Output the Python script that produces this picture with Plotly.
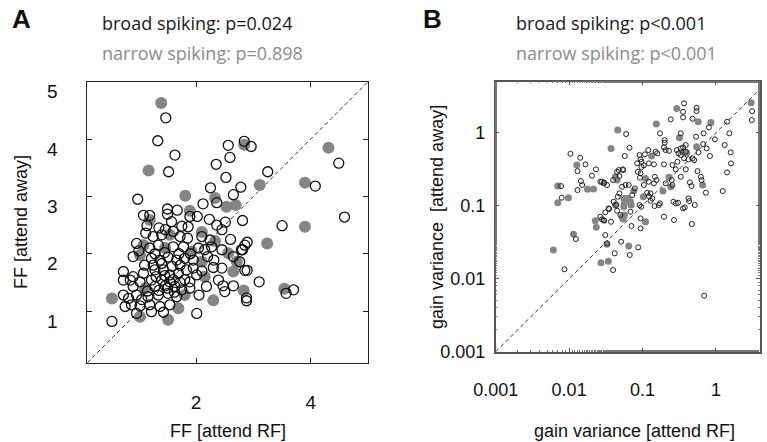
import numpy as np
import plotly.graph_objects as go

# ---------------- data: panel A (Fano factor) ----------------
A_BROAD_X = [1.47, 1.33, 1.63, 1.52, 2.56, 2.84, 2.96, 2.59, 2.35, 2.52, 2.25, 2.78, 2.65, 3.25, 0.98,
             4.49, 4.08, 4.59, 3.50, 2.81, 2.89, 2.85, 2.81, 2.76, 2.85, 2.89, 3.10, 2.88, 2.88, 3.57, 3.70,
             2.36, 2.12, 1.50, 1.67, 1.08, 1.19, 1.50, 1.89, 2.02, 2.23, 2.51, 2.36, 1.57, 1.86, 1.14, 1.46,
             1.60, 2.45, 1.12, 1.40, 1.72, 1.85, 2.24, 0.96, 1.19, 1.34, 1.60, 1.78, 2.04, 2.15, 2.27, 2.45,
             2.79, 0.90, 1.22, 1.37, 1.51, 1.66, 1.80, 1.95, 2.31, 2.30, 2.45, 0.73, 0.90, 1.08, 1.28, 1.43,
             1.54, 1.69, 1.83, 2.01, 0.73, 0.85, 1.02, 1.22, 1.40, 1.54, 1.89, 2.18, 2.39, 2.47, 2.50, 2.65,
             0.90, 1.28, 1.46, 1.63, 1.75, 1.89, 0.73, 0.82, 0.96, 1.16, 1.34, 1.51, 1.66, 2.05, 0.76, 0.87,
             1.02, 1.19, 1.37, 1.54, 0.96, 1.22, 1.43, 2.01, 0.53,
             1.30, 1.45, 1.60, 1.72, 1.35, 1.50, 1.62, 1.80, 1.25, 1.40, 1.58, 1.72, 1.10, 1.15, 1.05, 1.95,
             2.10, 1.70, 1.90, 1.45, 1.28, 1.00, 2.20, 1.35, 1.75, 1.25, 2.10, 2.60, 2.65]
A_BROAD_Y = [4.37, 3.97, 3.72, 3.43, 3.89, 3.96, 3.87, 3.68, 3.56, 3.33, 3.15, 3.16, 3.03, 3.43, 2.95,
             3.58, 3.18, 2.64, 2.49, 2.58, 2.20, 2.15, 2.07, 1.86, 1.71, 1.71, 1.51, 1.23, 1.18, 1.31, 1.37,
             2.89, 2.87, 2.78, 2.76, 2.67, 2.67, 2.69, 2.65, 2.65, 2.60, 2.55, 2.50, 2.56, 2.47, 2.49, 2.42,
             2.39, 2.42, 2.36, 2.33, 2.30, 2.27, 2.24, 2.18, 2.10, 2.15, 2.12, 2.12, 2.10, 2.07, 2.12, 2.07,
             2.07, 1.95, 1.92, 1.89, 1.94, 1.89, 1.92, 1.89, 1.89, 1.76, 1.75, 1.69, 1.60, 1.66, 1.72, 1.72,
             1.63, 1.66, 1.72, 1.63, 1.54, 1.54, 1.51, 1.54, 1.54, 1.51, 1.51, 1.43, 1.54, 1.44, 1.34, 1.44,
             1.43, 1.43, 1.44, 1.43, 1.37, 1.40, 1.28, 1.22, 1.28, 1.25, 1.28, 1.31, 1.25, 1.28, 1.08, 1.11,
             1.09, 1.11, 1.08, 1.11, 0.96, 0.99, 0.98, 0.96, 0.82,
             1.60, 1.62, 1.55, 1.50, 1.36, 1.40, 1.33, 1.55, 1.80, 1.83, 1.78, 1.80, 1.80, 1.35, 1.20, 1.75,
             1.70, 2.00, 2.00, 2.02, 2.00, 2.05, 1.95, 2.45, 2.48, 2.30, 2.30, 2.25, 1.95]

A_NARROW_X = [1.39, 1.17, 2.84, 3.11, 1.81, 2.33, 4.31, 3.90, 3.90, 3.24, 2.83, 3.54, 2.53, 2.69, 1.89,
              1.19, 2.10, 1.54, 2.33, 1.08, 1.46, 1.92, 2.56, 1.02, 2.10, 2.71, 2.65, 2.15, 1.11, 0.53,
              1.80, 2.30, 1.69, 1.02, 1.51]
A_NARROW_Y = [4.63, 3.45, 3.90, 3.20, 3.01, 2.97, 3.85, 3.24, 2.47, 2.18, 1.36, 1.39, 2.82, 2.85, 2.75,
              2.59, 2.38, 2.33, 2.22, 2.15, 2.10, 2.04, 2.01, 1.98, 1.86, 1.86, 1.69, 1.60, 1.40, 1.22,
              1.28, 1.19, 1.05, 0.90, 0.85]

A_RANGE = [0.1, 5]
A_XTICKS = [2, 4]
A_YTICKS = [1, 2, 3, 4, 5]

# ---------------- data: panel B (gain variance), read in log10 units ----------------
B_BROAD_LOG10_X = [-1.223, -1.178, -1.242, -1.982, -1.849, -1.777, -1.886, -1.634, -1.689, -1.347, -1.315, -1.264,
                   -1.401, -1.840, -1.822, -1.553, -1.521, -1.484, -1.278, -1.233, -1.188, -1.886, -2.110, -2.100,
                   -1.393, -1.338, -1.315, -1.462, -1.356,
                   -1.456, -1.347, -1.507, -1.301, -1.553, -1.521, -1.429, -1.908, -1.507, -1.484, -1.292, -1.379,
                   -1.401, -2.064, -1.174,
                   -0.434, -0.448, -0.448, -0.264, -0.264, -0.319, -0.616, -0.763, -0.479, -0.096, -0.169, 0.151,
                   0.182, -0.014, -0.699, -0.699, -0.270, -0.411, -0.174, -0.127, 0.119, 0.201, 0.205, 0.151,
                   -0.082, -0.237, -0.708, -0.685, -0.640, -0.534, -0.511, -0.479, -0.448, -0.411, -0.479, -0.434,
                   -0.374, -0.319, -0.297, -0.968, -1.027, -1.014, -0.922, -0.822, -0.799, -0.914, -0.845, -0.708,
                   -0.593, -0.548, -0.525, -0.411, -0.251, -0.205, -0.196, -0.137, 0.092, -0.479, -0.356, -0.333,
                   -0.603, -0.593, -0.685, -0.832, -0.808, -0.982, -0.914, -0.845, -1.064, -1.027, -1.036, -1.105,
                   -1.141, -0.936, -0.914, -0.890, -0.867, -0.890, -1.041, -1.018, -1.164, -0.836, -0.777, -0.763,
                   -0.708, -0.580, -0.548, -0.516, -0.448, -0.425, -0.374, -0.365, -0.288, -0.571, -0.329, -1.027,
                   -1.027, -1.151, -1.059, -0.160, -1.575, -1.530, -1.575, -1.530, -1.324, -1.270, -1.041, -1.073,
                   -1.014, -0.982, 0.493, 0.489]
B_BROAD_LOG10_Y = [-0.018, -0.205, -0.319, -0.288, -0.342, -0.433, -0.525, -0.501, -0.589, -0.534, -0.593, -0.511,
                   -0.648, -0.662, -0.716, -0.671, -0.685, -0.716, -0.740, -0.716, -0.716, -0.785, -0.730, -0.890,
                   -0.945, -0.877, -0.830, -1.036, -0.990,
                   -1.045, -1.068, -1.090, -1.127, -1.186, -1.205, -1.219, -1.456, -1.401, -1.515, -1.493, -1.652,
                   -1.881, -1.871, -1.675,
                   0.403, 0.288, 0.211, 0.342, 0.297, 0.192, 0.184, -0.008, -0.008, 0.074, -0.008, 0.151,
                   -0.008, -0.090, -0.100, -0.137, -0.055, -0.168, -0.155, -0.214, -0.168, -0.268, -0.419, -0.543,
                   -0.319, -0.268, -0.200, -0.237, -0.247, -0.237, -0.282, -0.214, -0.200, -0.260, -0.305, -0.350,
                   -0.364, -0.350, -0.374, -0.296, -0.364, -0.397, -0.237, -0.260, -0.282, -0.419, -0.433, -0.433,
                   -0.442, -0.501, -0.397, -0.501, -0.525, -0.603, -0.648, -0.822, -0.799, -0.603, -0.680, -0.730,
                   -0.648, -0.716, -0.693, -0.603, -0.648, -0.716, -0.671, -0.693, -0.534, -0.556, -0.616, -0.762,
                   -0.854, -0.822, -0.867, -0.830, -0.900, -0.932, -0.990, -1.014, -1.082, -1.004, -0.990, -0.967,
                   -1.151, -0.945, -0.967, -0.959, -1.036, -1.022, -0.900, -0.936, -0.990, -1.196, -1.250, -1.173,
                   -1.310, -1.278, -1.570, -2.233, -1.151, -1.196, -0.671, -0.693, -0.511, -0.501, -0.305, -0.419,
                   -0.470, -0.447, 0.297, 0.174]

B_NARROW_LOG10_X = [-1.338, -1.429, -1.895, -1.347, -1.749, -1.667, -2.155, -2.010, -2.155, -1.210, -1.247, -1.370,
                    -1.247, -1.264, -1.644, -1.630, -1.941, -1.484, -1.188, -2.215, -1.566, -1.466, -0.534, -0.242,
                    -0.068, -0.812, -0.497, -0.264, -0.442, -0.397, -0.877, -0.182, -0.640, -0.616, -0.722, -0.959,
                    -1.119, -1.256, -0.990, -1.155, -1.256, -1.278, -1.164, -0.959, -1.370, 0.479]
B_NARROW_LOG10_Y = [0.037, -0.214, -0.442, -0.648, -0.775, -0.771, -0.730, -0.890, -0.959, -0.900, -0.967, -0.990,
                    -1.127, -1.182, -1.205, -1.296, -1.392, -1.529, -1.552, -1.607, -1.781, -1.762, 0.334, 0.151,
                    0.142, 0.119, -0.068, -0.192, -0.260, -0.274, -0.319, -0.716, -0.611, -0.740, -0.799, -0.625,
                    -0.795, -0.900, -0.877, -0.990, -1.014, -1.151, -0.945, -1.219, -0.603, 0.411]

B_XRANGE_LOG10 = [-3, 0.6]
B_YRANGE_LOG10 = [-3, 0.7]
B_TICKS = [0.001, 0.01, 0.1, 1]
B_TICK_LABELS = ["0.001", "0.01", "0.1", "1"]

TITLE_A = ["broad spiking: p=0.024", "narrow spiking: p=0.898"]
TITLE_B = ["broad spiking: p<0.001", "narrow spiking: p<0.001"]

# ---------------- figure ----------------
W, H = 767, 442
GRAY = "#858585"
TICKFONT = dict(family="Liberation Sans, Arial, sans-serif", size=18, color="#111")
ATICKFONT = dict(family="Liberation Sans, Arial, sans-serif", size=19, color="#111")
LABELFONT = dict(family="Liberation Sans, Arial, sans-serif", size=18, color="#111")
HEADFONT = "Open Sans, Lato, sans-serif"

def px_x(p):
    return p / W

def px_y(p):
    return 1 - p / H

fig = go.Figure()

# panel A
fig.add_trace(go.Scatter(x=A_RANGE, y=A_RANGE, mode="lines",
                         line=dict(color="#333", width=1, dash="4px,3px"),
                         xaxis="x", yaxis="y", hoverinfo="skip"))
fig.add_trace(go.Scatter(x=A_NARROW_X, y=A_NARROW_Y, mode="markers",
                         marker=dict(size=12, color=GRAY, line=dict(width=0)),
                         xaxis="x", yaxis="y"))
fig.add_trace(go.Scatter(x=A_BROAD_X, y=A_BROAD_Y, mode="markers",
                         marker=dict(symbol="circle-open", size=10, color="#111", line=dict(width=1.3)),
                         xaxis="x", yaxis="y"))

# panel B
bx_b = 10 ** np.array(B_BROAD_LOG10_X)
by_b = 10 ** np.array(B_BROAD_LOG10_Y)
bx_n = 10 ** np.array(B_NARROW_LOG10_X)
by_n = 10 ** np.array(B_NARROW_LOG10_Y)
diag_b = [10 ** B_XRANGE_LOG10[0], 10 ** B_YRANGE_LOG10[1]]
fig.add_trace(go.Scatter(x=diag_b, y=diag_b, mode="lines",
                         line=dict(color="#333", width=1, dash="4px,3px"),
                         xaxis="x2", yaxis="y2", hoverinfo="skip"))
fig.add_trace(go.Scatter(x=bx_n, y=by_n, mode="markers",
                         marker=dict(size=7, color=GRAY, line=dict(width=0)),
                         xaxis="x2", yaxis="y2"))
fig.add_trace(go.Scatter(x=bx_b, y=by_b, mode="markers",
                         marker=dict(symbol="circle-open", size=5, color="#222", line=dict(width=1)),
                         xaxis="x2", yaxis="y2"))

common = dict(showgrid=False, zeroline=False, showline=True, mirror="ticks", ticks="inside",
              automargin=False)

fig.update_layout(
    width=W, height=H, margin=dict(l=0, r=0, t=0, b=0),
    paper_bgcolor="white", plot_bgcolor="white", showlegend=False,
    xaxis=dict(domain=[px_x(87.3), px_x(368)], range=A_RANGE, tickvals=A_XTICKS,
               ticklen=5, linecolor="#222", linewidth=1.2, tickcolor="#222", tickfont=ATICKFONT,
               ticklabelstandoff=22, anchor="y", **common),
    yaxis=dict(domain=[px_y(362.7), px_y(81.7)], range=A_RANGE, tickvals=A_YTICKS,
               showticklabels=False, ticklen=5, linecolor="#222", linewidth=1.2, tickcolor="#222",
               anchor="x", **common),
    xaxis2=dict(domain=[px_x(495.7), px_x(760)], type="log", range=B_XRANGE_LOG10,
                tickvals=B_TICKS, ticktext=B_TICK_LABELS, ticklen=4, tickfont=TICKFONT,
                linecolor="#555", linewidth=1.5, tickcolor="#555",
                minor=dict(ticks="inside", ticklen=2, tickcolor="#777", showgrid=False),
                ticklabelstandoff=21, anchor="y2", **common),
    yaxis2=dict(domain=[px_y(351.7), px_y(81.7)], type="log", range=B_YRANGE_LOG10,
                tickvals=B_TICKS, ticktext=B_TICK_LABELS, ticklen=4, tickfont=TICKFONT,
                linecolor="#555", linewidth=1.5, tickcolor="#555",
                minor=dict(ticks="inside", ticklen=2, tickcolor="#777", showgrid=False),
                ticklabelstandoff=5, anchor="x2", **common),
)

ann = []
# shifted y tick labels of panel A
for v in A_YTICKS:
    ann.append(dict(xref="x domain", yref="y", x=0, y=v, xanchor="right", yanchor="middle",
                    xshift=-27, yshift=-10, text=str(v), showarrow=False, font=ATICKFONT))

# panel letters
ann.append(dict(xref="paper", yref="paper", x=px_x(21), y=px_y(19), text="<b>A</b>", showarrow=False,
                xanchor="center", yanchor="middle",
                font=dict(family="Liberation Sans, Arial, sans-serif", size=26, color="#111")))
ann.append(dict(xref="paper", yref="paper", x=px_x(432.6), y=px_y(19), text="<b>B</b>", showarrow=False,
                xanchor="center", yanchor="middle",
                font=dict(family="Liberation Sans, Arial, sans-serif", size=26, color="#111")))

# headers
for left, texts in ((100, TITLE_A), (514, TITLE_B)):
    ann.append(dict(xref="paper", yref="paper", x=px_x(left), y=px_y(23), text=texts[0], showarrow=False,
                    xanchor="left", yanchor="middle", font=dict(family=HEADFONT, size=18, color="#1a1a1a")))
    ann.append(dict(xref="paper", yref="paper", x=px_x(left), y=px_y(53), text=texts[1], showarrow=False,
                    xanchor="left", yanchor="middle", font=dict(family=HEADFONT, size=18, color="#8c8c8c")))

# axis titles
ann.append(dict(xref="paper", yref="paper", x=px_x(228), y=px_y(431), text="FF [attend RF]",
                showarrow=False, xanchor="center", yanchor="middle", font=LABELFONT))
ann.append(dict(xref="paper", yref="paper", x=px_x(634), y=px_y(431), text="gain variance [attend RF]",
                showarrow=False, xanchor="center", yanchor="middle", font=LABELFONT))
ann.append(dict(xref="paper", yref="paper", x=px_x(21), y=px_y(222), text="FF [attend away]",
                showarrow=False, xanchor="center", yanchor="middle", textangle=-90, font=LABELFONT))
ann.append(dict(xref="paper", yref="paper", x=px_x(437), y=px_y(217), text="gain variance \u00a0[attend away]",
                showarrow=False, xanchor="center", yanchor="middle", textangle=-90, font=LABELFONT))

fig.update_layout(annotations=ann)
fig.write_html("out.html", config={"displayModeBar": False},
               post_script=["document.body.style.margin='0';document.body.style.overflow='hidden';"])
